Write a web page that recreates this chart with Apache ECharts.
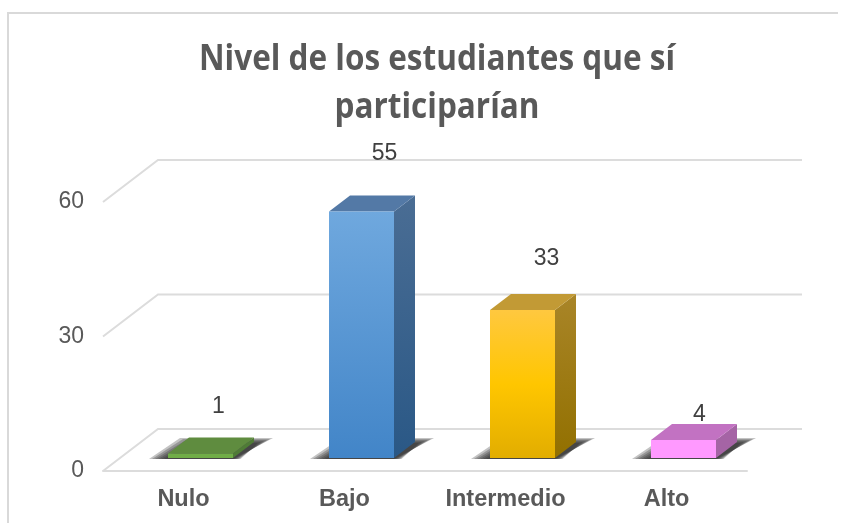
<!DOCTYPE html>
<html>
<head>
<meta charset="utf-8">
<style>
  html, body { margin: 0; padding: 0; background: #fff; }
  #chart { width: 851px; height: 523px; }
</style>
<script src="https://cdn.jsdelivr.net/npm/echarts@6/dist/echarts.min.js"></script>
</head>
<body>
<div id="chart"></div>
<script>
const categories = ['Nulo', 'Bajo', 'Intermedio', 'Alto'];
const values = [1, 55, 33, 4];
const yTicks = [0, 30, 60];

// the picture is a fake 3D column chart, these are the pixel offsets of the box
const wallDx = 55, wallDy = -42;
const barDx = 17, barDy = -13;
const depthDx = 21, depthDy = -16;
const barWidth = 65;
// labels were moved by hand in the original
const labelDx = [18, 23, 24, 16];
const labelDy = [-47, -58, -51, -25];

const palette = [
  { front: ['#70ad47', '#70ad47'], top: '#5f8c3f', side: ['#4f7c36', '#4f7c36'] },
  { front: ['#6fa8de', '#4285c8'], top: '#5379a6', side: ['#4a6d94', '#2a5886'] },
  { front: ['#ffc83f', '#ffc600', '#e2ad00'], top: '#c29a35', side: ['#a98528', '#927000'] },
  { front: ['#ff99ff', '#ff99ff'], top: '#c272c2', side: ['#a564a5', '#a564a5'] }
];

function vGrad(colors) {
  return new echarts.graphic.LinearGradient(0, 0, 0, 1, colors.map(function (c, i) {
    return { offset: i / (colors.length - 1), color: c };
  }));
}

function poly(points, fill) {
  return { type: 'polygon', shape: { points: points }, style: { fill: fill } };
}

// soft floor shadow: a few see-through layers, each a bit smaller than the last
function floorShadow(x0, x1, yB) {
  const layers = [];
  for (let k = 0; k < 6; k++) {
    const ins = k * 3;
    layers.push(poly([
      [x0 - 19 + ins, yB + 1],
      [x1 + ins / 2, yB + 1],
      [x1 + 40 - ins, yB - 20 + k],
      [x0 + 12 + ins, yB - 20 + k]
    ], 'rgba(40,40,40,0.28)'));
  }
  return layers;
}

function renderWall(params, api) {
  const left = api.coord([0, api.value(0)]);
  const y = left[1];
  const x0 = params.coordSys.x;
  const x1 = x0 + params.coordSys.width;
  return {
    type: 'polyline',
    silent: true,
    shape: { points: [[x0, y], [x0 + wallDx, y + wallDy], [x1 + wallDx, y + wallDy]] },
    style: { stroke: '#dcdcdc', lineWidth: 2, fill: null }
  };
}

function renderBar(params, api) {
  const i = params.dataIndex;
  const top = api.coord([i, api.value(1)]);
  const bottom = api.coord([i, 0]);
  const c = palette[i];
  const x0 = top[0] + barDx - barWidth / 2;
  const x1 = x0 + barWidth;
  const yT = top[1] + barDy;
  const yB = bottom[1] + barDy;
  return {
    type: 'group',
    children: floorShadow(x0, x1, yB).concat([
      poly([[x1, yT], [x1 + depthDx, yT + depthDy], [x1 + depthDx, yB + depthDy], [x1, yB]], vGrad(c.side)),
      poly([[x0, yT], [x0 + depthDx, yT + depthDy], [x1 + depthDx, yT + depthDy], [x1, yT]], c.top),
      poly([[x0, yT], [x1, yT], [x1, yB], [x0, yB]], vGrad(c.front)),
      {
        type: 'text',
        style: {
          x: top[0] + barDx + labelDx[i],
          y: top[1] + barDy + labelDy[i],
          text: String(api.value(1)),
          fill: '#404040',
          font: '23px "Liberation Sans"',
          align: 'center',
          verticalAlign: 'middle'
        }
      }
    ])
  };
}

const chart = echarts.init(document.getElementById('chart'));

chart.setOption({
  animation: false,
  graphic: [
    {
      type: 'polyline',
      silent: true,
      shape: { points: [[8, 523], [8, 13], [838, 13]] },
      style: { stroke: '#d9d9d9', lineWidth: 2, fill: null }
    },
    {
      // original title is a tall narrow face, so squeeze it sideways
      type: 'text',
      x: 437,
      y: 36,
      scaleX: 0.9,
      style: {
        text: 'Nivel de los estudiantes que sí\nparticiparían',
        font: 'bold 35px "Open Sans"',
        lineHeight: 48,
        fill: '#595959',
        align: 'center'
      }
    }
  ],
  grid: { left: 103, right: 104, top: 202, bottom: 52 },
  xAxis: {
    type: 'category',
    data: categories,
    axisTick: { show: false },
    axisLine: { show: true, lineStyle: { color: '#dcdcdc', width: 2 } },
    axisLabel: {
      color: '#595959',
      fontFamily: 'Liberation Sans',
      fontSize: 23.5,
      fontWeight: 'bold',
      margin: 17
    }
  },
  yAxis: {
    type: 'value',
    min: 0,
    max: 60,
    interval: 30,
    axisLine: { show: false },
    axisTick: { show: false },
    splitLine: { show: false },
    axisLabel: {
      color: '#595959',
      fontFamily: 'Liberation Sans',
      fontSize: 23,
      margin: 19,
      padding: [0, 0, 3, 0]
    }
  },
  series: [
    {
      type: 'custom',
      coordinateSystem: 'cartesian2d',
      renderItem: renderWall,
      silent: true,
      encode: { x: 1, y: 0 },
      data: yTicks.map(function (t) { return [t, 0]; }),
      z: 1
    },
    {
      type: 'custom',
      coordinateSystem: 'cartesian2d',
      renderItem: renderBar,
      encode: { x: 0, y: 1 },
      data: values.map(function (v, i) { return [i, v]; }),
      z: 2
    }
  ]
});
</script>
</body>
</html>
